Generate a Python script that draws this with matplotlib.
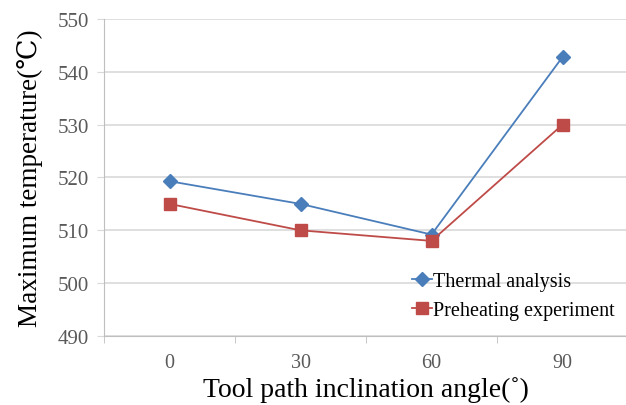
import matplotlib
matplotlib.use("Agg")
import matplotlib.pyplot as plt

categories = ["0", "30", "60", "90"]
thermal = [519.3, 515.0, 509.2, 542.8]
preheat = [515.0, 510.0, 508.0, 530.0]
yticks = [490, 500, 510, 520, 530, 540, 550]

serif = ["Liberation Serif", "DejaVu Serif"]
plt.rcParams['font.family'] = serif

fig = plt.figure(figsize=(6.26, 4.06), dpi=100)
ax = fig.add_axes([104/626, 69/406, 524/626, 317/406])

x = list(range(len(categories)))
ax.plot(x, thermal, color="#4a7ebb", marker="D", markersize=7.5, linewidth=1.3,
        label="Thermal analysis", zorder=3)
ax.plot(x, preheat, color="#be4b48", marker="s", markersize=9, linewidth=1.3,
        label="Preheating experiment", zorder=3)

ax.set_xlim(-0.5, 3.5)
ax.set_ylim(490, 550)
ax.set_yticks(yticks)
ax.set_xticks(x)
ax.set_xticklabels(categories)
ax.set_xticks([i + 0.5 for i in range(-1, len(categories))], minor=True)
ax.tick_params(axis="x", which="major", length=0, pad=12, labelsize=14.5, labelcolor="#595959")
ax.tick_params(axis="x", which="minor", length=5, color="#bfbfbf", direction="out")
ax.tick_params(axis="y", which="major", length=5, color="#d9d9d9", labelsize=15,
               labelcolor="#595959", pad=6)

ax.grid(axis="y", color="#d9d9d9", linewidth=1.2)
ax.set_axisbelow(True)
for s in ["top", "right"]:
    ax.spines[s].set_visible(False)
ax.spines["left"].set_color("#bfbfbf")
ax.spines["bottom"].set_color("#bfbfbf")

ax.set_xlabel("Tool path inclination angle(˚)", fontsize=20, labelpad=3)
ax.set_ylabel("Maximum temperature(℃)", fontsize=19.5, labelpad=10)

leg = ax.legend(loc="lower right", bbox_to_anchor=(0.99, 0.025), frameon=False,
                fontsize=14.5, handlelength=1.0, handletextpad=0.05, labelspacing=0.5,
                borderaxespad=0)

fig.savefig("out.png", dpi=100)
